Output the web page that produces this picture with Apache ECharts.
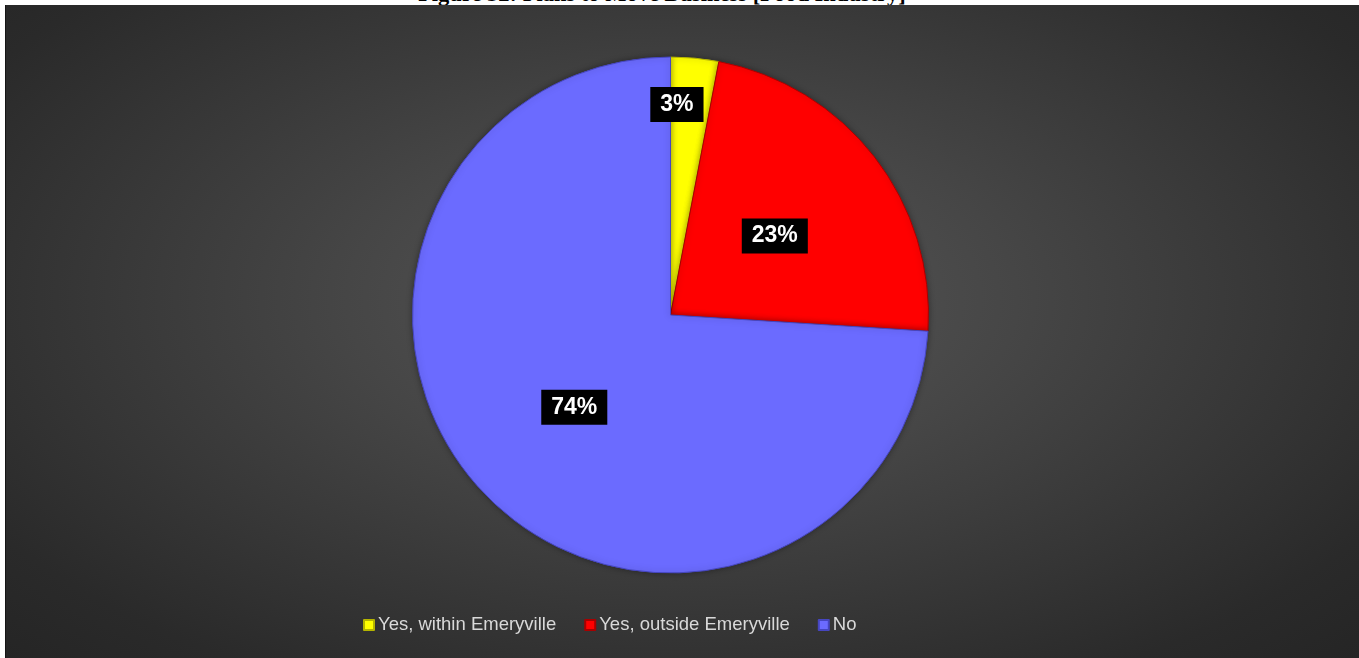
<!DOCTYPE html>
<html>
<head>
<meta charset="utf-8">
<script src="https://cdn.jsdelivr.net/npm/echarts@6/dist/echarts.min.js"></script>
<style>
  html, body { margin: 0; padding: 0; background: #ffffff; width: 1359px; height: 658px; overflow: hidden; }
  #caption {
    position: absolute; left: 0; top: 0; width: 1359px; height: 5px; overflow: hidden;
  }
  #caption span {
    position: absolute; left: 0; width: 1324px; top: -17px; text-align: center;
    font: bold 22.5px "Liberation Serif", "Times New Roman", serif; line-height: 22px; color: #000;
    white-space: nowrap;
  }
  #chart {
    position: absolute; left: 5px; top: 5px; width: 1354px; height: 653px;
    background: radial-gradient(ellipse at 50% 45%, #585858 0%, #464646 35%, #2a2a2a 85%, #252525 100%);
    box-shadow: inset 1px 0 0 #151515;
  }
</style>
</head>
<body>
<div id="caption"><span>Figure 32: Plans to Move Business [Food Industry]</span></div>
<div id="chart"></div>
<script>
// Survey answers: do food-industry businesses plan to move?
const categories = ['Yes, within Emeryville', 'Yes, outside Emeryville', 'No'];
const shares = [3, 23, 74];
const sliceColors = ['#ffff00', '#ff0000', '#6b6bff'];
const edgeColors = ['#b5b500', '#a80000', '#4646c0'];

const chart = echarts.init(document.getElementById('chart'), null, { renderer: 'canvas' });

const data = categories.map((name, i) => {
  const item = {
    name: name,
    value: shares[i],
    itemStyle: { color: sliceColors[i], borderColor: edgeColors[i] }
  };
  // the thin slice keeps its label out near the rim
  if (i === 0) item.label = { offset: [-6, -79] };
  return item;
});

chart.setOption({
  backgroundColor: 'transparent',
  animation: false,
  legend: {
    data: categories,
    left: 358,
    top: 608,
    orient: 'horizontal',
    icon: 'rect',
    itemWidth: 10,
    itemHeight: 10,
    itemGap: 28,
    textStyle: {
      color: '#d9d9d9', fontSize: 18.5, lineHeight: 22,
      fontFamily: 'Liberation Sans, Arial, sans-serif',
      padding: [0, 0, 0, -1]
    },
    padding: [1, 0, 0, 0]
  },
  series: [{
    type: 'pie',
    center: [665.5, 310],
    radius: [0, 258],
    startAngle: 90,
    clockwise: true,
    avoidLabelOverlap: false,
    percentPrecision: 0,
    itemStyle: {
      borderWidth: 1,
      shadowBlur: 6,
      shadowColor: 'rgba(0,0,0,0.35)'
    },
    label: {
      show: true,
      position: 'inside',
      offset: [0, 2],
      formatter: '{c}%',
      color: '#ffffff',
      fontWeight: 'bold',
      fontSize: 23,
      lineHeight: 24,
      fontFamily: 'Liberation Sans, Arial, sans-serif',
      backgroundColor: '#000000',
      padding: [6, 10, 5, 10]
    },
    labelLine: { show: false },
    emphasis: { disabled: true },
    data: data
  }]
});
</script>
</body>
</html>
